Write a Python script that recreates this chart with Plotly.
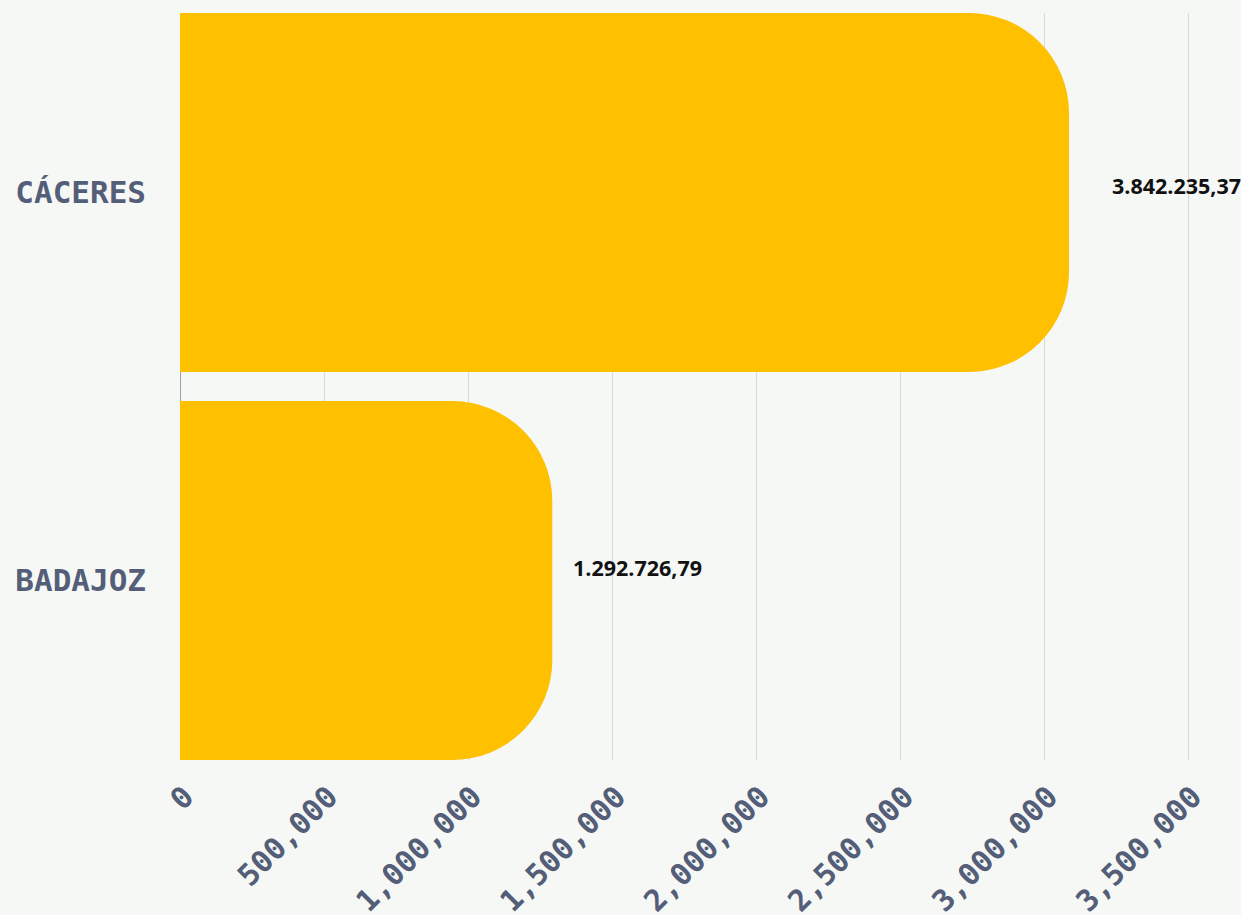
import plotly.graph_objects as go

# Data
PROVINCIAS = ["CÁCERES", "BADAJOZ"]
IMPORTES = [3842235.37, 1292726.79]          # values printed as data labels
BAR_LONGITUD = [3086800, 1292726.79]          # bar lengths as drawn on the x scale
ETIQUETAS = ["3.842.235,37", "1.292.726,79"]  # label texts as printed
TICK_VALUES = [0, 500000, 1000000, 1500000, 2000000, 2500000, 3000000, 3500000]
TICK_TEXT = ["0", "500,000", "1,000,000", "1,500,000", "2,000,000",
             "2,500,000", "3,000,000", "3,500,000"]

# style
LABEL_XSHIFT = [41, 19]
LABEL_YSHIFT = [7, 13]
BAR_COLOR = "#FFC000"
BG = "#F6F8F6"
AXIS_TEXT = "#545E78"

fig = go.Figure()
fig.add_trace(go.Bar(
    y=PROVINCIAS, x=BAR_LONGITUD, orientation="h",
    marker=dict(color=BAR_COLOR, line=dict(width=0)),
    hoverinfo="skip",
))

for prov, val, txt, xs, ys in zip(PROVINCIAS, BAR_LONGITUD, ETIQUETAS, LABEL_XSHIFT, LABEL_YSHIFT):
    fig.add_annotation(
        x=val, y=prov, text=txt, showarrow=False,
        xanchor="left", yanchor="middle", xshift=xs, yshift=ys,
        font=dict(family="Open Sans", size=21.5, color="#111111", weight="bold"),
    )

w = 0.925
fig.update_layout(
    width=1241, height=915,
    paper_bgcolor=BG, plot_bgcolor=BG,
    margin=dict(l=180, r=0, t=13, b=155, autoexpand=False),
    bargap=1 - w,
    barcornerradius=100,
    showlegend=False,
    xaxis=dict(
        range=[0, 3684000],
        tickmode="array", tickvals=TICK_VALUES, ticktext=TICK_TEXT,
        tickangle=-45,
        tickfont=dict(family="DejaVu Sans Mono", size=30, color=AXIS_TEXT, weight="bold"),
        showgrid=True, gridcolor="#D9D9D9", gridwidth=1,
        zeroline=True, zerolinecolor="#9AA3B8", zerolinewidth=1,
        showline=False, ticks="", ticklabelstandoff=12, ticklabelshift=5,
        automargin=False, fixedrange=True,
    ),
    yaxis=dict(
        type="category", categoryorder="array",
        categoryarray=list(reversed(PROVINCIAS)),
        range=[-w / 2, 1 + w / 2],
        tickfont=dict(family="DejaVu Sans Mono", size=31, color=AXIS_TEXT, weight="bold"),
        showgrid=False, zeroline=False, showline=False, ticks="",
        ticklabelstandoff=33,
        automargin=False, fixedrange=True,
    ),
)

fig.write_html(
    "out.html",
    config={"displayModeBar": False},
    post_script="document.body.style.margin='0';document.body.style.background='%s';" % BG,
)
